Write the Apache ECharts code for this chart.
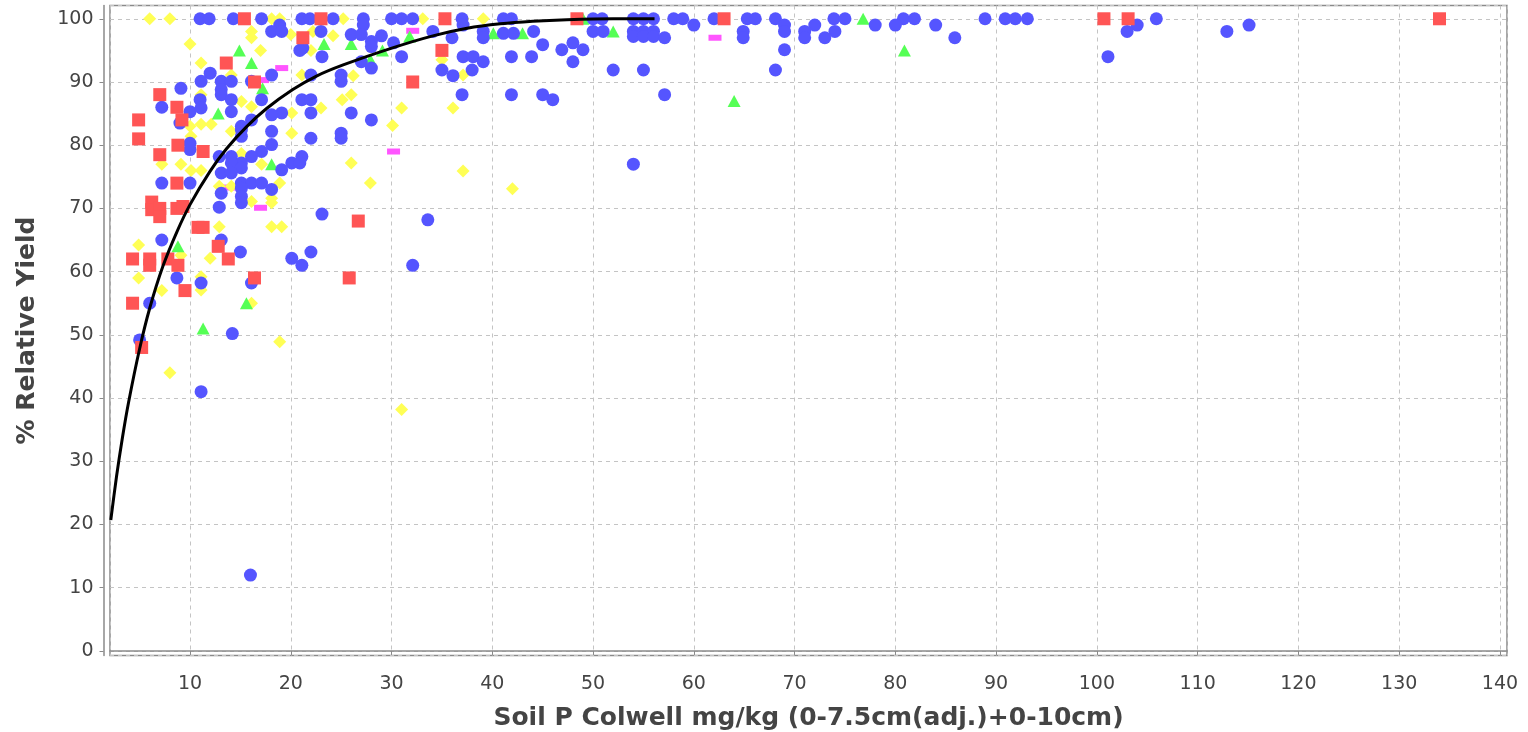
<!DOCTYPE html>
<html>
<head>
<meta charset="utf-8">
<script src="https://cdn.jsdelivr.net/npm/echarts@6/dist/echarts.min.js"></script>
<style>
html, body { margin: 0; padding: 0; background: #fff; }
#chart { width: 1528px; height: 732px; }
</style>
</head>
<body>
<div id="chart"></div>
<script>
// axis titles
var xTitle = 'Soil P Colwell mg/kg (0-7.5cm(adj.)+0-10cm)';
var yTitle = '% Relative Yield';

// [soil P, relative yield]
var redSquares = [
  [4.3,62],[4.9,84],[4.9,81],[4.3,55],[5.2,48],[6.0,62],[6.0,61],[6.2,71],[6.2,69.8],[7.0,88],
  [7.0,78.5],[7.0,70],[7.0,68.7],[7.8,62],[8.7,86],[9.2,84],[8.8,80],[8.7,74],[8.7,70],[9.3,70.3],
  [8.8,61],[9.5,57],[10.8,67],[11.3,67],[11.3,79],[12.8,64],[13.8,62],[13.6,93],[16.4,90],[16.4,59],
  [15.4,100],[21.2,97],[23,100],[26.7,68],[25.8,59],[32.1,90],[35,95],[35.3,100],[48.4,100],[63,100],
  [100.7,100],[103.1,100],[134,100]
];

var blueCircles = [
  [11,100],[11.9,100],[14.3,100],[17.1,100],[21.1,100],[21.9,100],[24.2,100],[27.2,100],[30,100],[31,100],
  [32.1,100],[37,100],[41.1,100],[41.9,100],[50,100],[50.9,100],[54,100],[55,100],[56,100],[58,100],
  [58.9,100],[62,100],[65.3,100],[66.1,100],[68.1,100],[73.9,100],[75,100],[80.8,100],[81.9,100],[88.9,100],
  [90.9,100],[91.9,100],[93.1,100],[105.9,100],
  [27.2,99],[18.9,99],[37.1,99],[60,99],[69,99],[72,99],[78,99],[80,99],[84,99],[104,99],[115.1,99],
  [18.1,98],[19.1,98],[23,98],[34.1,98],[39.1,98],[44.1,98],[50,98],[51,98],[54,98],[55,98],
  [56,98],[64.9,98],[69,98],[71,98],[74,98],[103,98],[112.9,98],
  [26,97.5],[27,97.5],[29,97.3],[36,97],[39.1,97],[41.1,97.7],[42.1,97.7],[54,97.2],[55,97.2],[56,97.2],
  [57.1,97],[64.9,97],[71,97],[73,97],[85.9,97],
  [28,96.4],[30.2,96.2],[28,95.6],[21.2,95.4],[45,95.9],[48,96.2],[46.9,95.1],[49,95.1],[69,95.1],[20.9,95],
  [23.1,94],[31,94],[37.1,94],[38.1,94],[41.9,94],[43.9,94],[101.1,94],[27,93.2],[28,92.2],[39.1,93.2],[48,93.2],
  [12,91.4],[18.1,91.1],[25,91.1],[22,91.1],[35,91.9],[36.1,91],[38,91.9],[52,91.9],[55,91.9],[68.1,91.9],
  [11.1,90.1],[13.1,90.1],[14.1,90.1],[16.1,90.1],[25,90.1],[9.1,89],[13.1,88.8],
  [13.1,88],[37,88],[41.9,88],[45,88],[57.1,88],[46,87.2],[14.1,87.2],[17.1,87.2],[21.1,87.2],[22,87.2],[11,87.2],
  [7.2,86],[10,85.3],[11.1,85.9],[14.1,85.3],[22,85.1],[19.1,85.1],[18.1,84.8],[26,85.1],[28,84],[16.1,84],[9,83.5],
  [15.1,83],[15.1,81.4],[18.1,82.2],[15.1,82.4],[25,81.9],[25,81.1],[22,81.1],
  [10,79.3],[10,80.3],[18.1,80.1],[17.1,79],[12.9,78.2],[14.1,78.2],[16.1,78.2],[21.1,78.2],
  [15.1,77.2],[14.1,77.2],[20.1,77.2],[20.9,77.2],[19.1,76.1],[15.1,76.4],[54,77],
  [13.1,75.6],[14.1,75.6],[15.1,74],[16.1,74],[17.1,74],[18.1,73],[15.1,73.2],[7.2,74],[10,74],[13.1,72.4],[15.1,71.9],
  [12.9,70.2],[15.1,70.9],[23.1,69.1],[33.6,68.2],[7.2,65],[13.1,65],[15,63.1],[22,63.1],[20.1,62.1],[21.1,61],
  [32.1,61],[8.7,59],[11.1,58.2],[16.1,58.2],[6,55],[5,49.2],[14.2,50.2],[11.1,41],[16,12]
];

var greenTriangles = [
  [8.8,64],[11.3,51],[12.8,85],[14.9,95],[15.6,55],[16.1,93],[17.2,89],[18.1,77],[23.3,96],[26,96],
  [27.9,93.5],[29.1,95],[31.8,97.2],[40.1,97.7],[43,97.7],[49,100],[52,98],[64,87],[76.8,100],[80.9,95]
];

var yellowDiamonds = [
  [6,100],[8,100],[18.1,100],[18.9,100],[25.2,100],[33.1,100],[37.1,100],[39.1,100],
  [16.1,98],[22.2,98],[20,97.5],[27,97.7],[16.1,97],[24.2,97.3],
  [10,96],[17,95],[22,95],[11.1,93],[35,93.5],
  [14.1,91.1],[26.2,91],[21.1,91.1],[37.1,91.1],
  [11.1,88],[26,88],[25.1,87.2],[15.1,86.9],[16.1,86.1],[23,85.9],[31,85.9],[36.1,85.9],[20.1,85.1],
  [10,83],[11.1,83.3],[12.1,83.3],[30.1,83.1],[14.1,82.2],[20.1,81.9],[10.1,81.4],
  [15.1,78.7],[9.1,77],[7.2,77],[17.1,77],[10.1,76],[11.1,76],[26,77.2],[37.1,75.9],
  [18.9,74],[27.9,74],[12.9,73.5],[14.1,73.5],[42,73.1],[18.1,71.6],[18.1,70.9],[16.1,71.1],
  [18.1,67.1],[19.1,67.1],[12.9,67.1],[4.9,64.2],[9.1,62.6],[12,62.1],[4.9,59],[11.1,59.2],
  [7.2,57],[11.1,57.1],[16.1,55],[18.9,48.9],[8,44],[31,38.2]
];

var magentaBars = [
  [13.9,73.3],[17.0,70.1],[19.1,92.2],[17.2,90.3],[30.2,79],[32.1,98.1],[62.1,97]
];

// fitted response curve, traced point by point
var fitCurve = [
  [2.14,20.7],[2.7,27.5],[3.3,33.8],[3.9,39.3],[5,47.8],[6,54.2],[7.3,60.8],[8.7,66.3],
  [10,70.6],[12,75.9],[13.6,79.4],[15.6,82.9],[17.6,85.8],[20.2,88.8],[22.5,90.9],[25.2,92.7],
  [30.1,95.4],[34.1,97.3],[37.5,98.5],[40.8,99.2],[44,99.6],[47.4,99.85],[52,100],[56.1,100]
];

var chart = echarts.init(document.getElementById('chart'));

var gridLine = { show: true, lineStyle: { color: '#c4c4c4', width: 1, type: [4, 4] } };
var tickText = { color: '#444', fontFamily: 'DejaVu Sans', fontSize: 19 };

function onlyTens(v) {
  return Math.abs(v - Math.round(v / 10) * 10) < 1e-6 ? String(Math.round(v)) : '';
}

var option = {
  backgroundColor: '#fff',
  animation: false,
  grid: {
    left: 110, right: 21, top: 5.5, bottom: 76.5,
    outerBoundsMode: 'none',
    show: true, borderColor: '#8a8a8a', borderWidth: 1.5, backgroundColor: '#fff'
  },
  xAxis: {
    type: 'value',
    min: 2.06, max: 140.7, splitNumber: 14,
    offset: 7.5,
    name: xTitle, nameLocation: 'middle', nameGap: 43,
    nameTextStyle: { color: '#444', fontFamily: 'DejaVu Sans', fontWeight: 'bold', fontSize: 25 },
    axisLine: { show: true, lineStyle: { color: '#8a8a8a', width: 1.5 } },
    axisTick: { show: true, length: 4, lineStyle: { color: '#8a8a8a' } },
    axisLabel: Object.assign({ margin: 12, formatter: onlyTens, showMinLabel: false, showMaxLabel: false }, tickText),
    splitLine: gridLine
  },
  yAxis: {
    type: 'value',
    min: -0.73, max: 102.1, splitNumber: 10,
    offset: 6.5,
    name: yTitle, nameLocation: 'middle', nameGap: 64,
    nameTextStyle: { color: '#444', fontFamily: 'DejaVu Sans', fontWeight: 'bold', fontSize: 25 },
    axisLine: { show: true, lineStyle: { color: '#8a8a8a', width: 1.5 } },
    axisTick: { show: true, length: 4, lineStyle: { color: '#8a8a8a' } },
    axisLabel: Object.assign({ margin: 10, formatter: onlyTens, showMinLabel: false, showMaxLabel: false }, tickText),
    splitLine: gridLine
  },
  series: [
    { name: 'magenta', type: 'scatter', data: magentaBars, symbol: 'rect', symbolSize: [13, 6],
      itemStyle: { color: '#FF55FF', opacity: 1 } },
    { name: 'yellow', type: 'scatter', data: yellowDiamonds, symbol: 'diamond', symbolSize: [13, 13],
      itemStyle: { color: '#FFFF55', opacity: 1 } },
    { name: 'green', type: 'scatter', data: greenTriangles, symbol: 'triangle', symbolSize: [13, 12],
      itemStyle: { color: '#55FF55', opacity: 1 } },
    { name: 'blue', type: 'scatter', data: blueCircles, symbol: 'circle', symbolSize: 13,
      itemStyle: { color: '#5555FF', opacity: 1 } },
    { name: 'red', type: 'scatter', data: redSquares, symbol: 'rect', symbolSize: [13, 13],
      itemStyle: { color: '#FF5555', opacity: 1 } },
    { name: 'fit', type: 'line', data: fitCurve, showSymbol: false, smooth: 0.3,
      lineStyle: { color: '#000', width: 3 }, z: 5 }
  ]
};

chart.setOption(option);
</script>
</body>
</html>
